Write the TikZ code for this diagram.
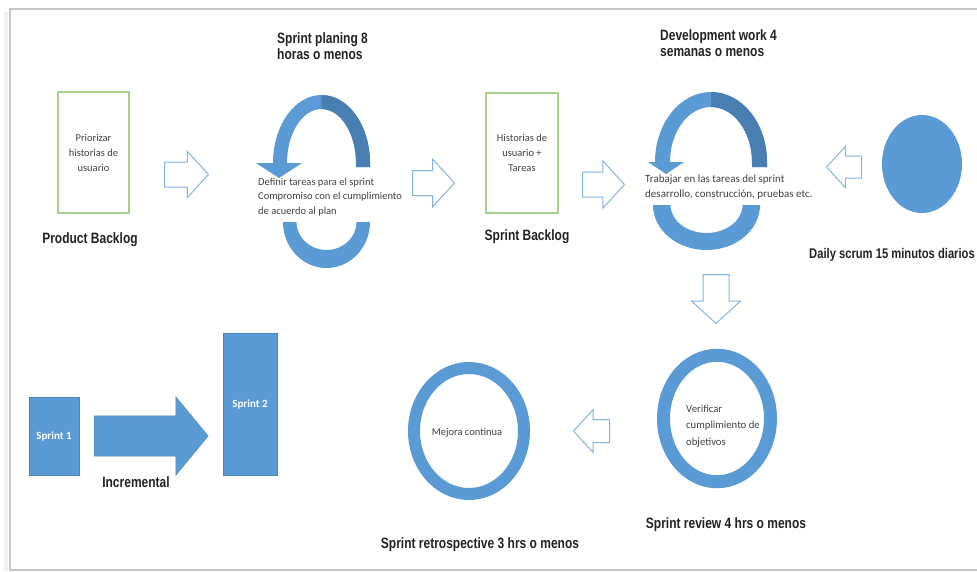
\documentclass[tikz,border=0pt]{standalone}
\usepackage{fontspec}
\setmainfont{Carlito}
\newfontfamily\labelfont[FakeStretch=0.8]{Liberation Sans}
\usepackage{tikz}
\usetikzlibrary{shapes.geometric,shapes.arrows}

\definecolor{scrumblue}{RGB}{91,155,213}
\definecolor{scrumdark}{RGB}{72,126,178}
\definecolor{outlineblue}{RGB}{130,180,226}
\definecolor{backloggreen}{RGB}{168,208,141}
\definecolor{textgray}{RGB}{64,64,64}
\definecolor{labelgray}{RGB}{34,34,34}

\tikzset{
  body/.style={font=\fontsize{10.5}{15}\selectfont, text=textgray, inner sep=0pt},
  caption/.style={font=\labelfont\bfseries\fontsize{15}{16}\selectfont, text=labelgray, inner sep=0pt},
  backlog/.style={draw=backloggreen, line width=1.2pt, fill=white, align=center, body},
  blockarrow/.style={single arrow, anchor=tail, draw=outlineblue, line width=1pt, fill=white, inner sep=0pt, text height=0pt, text depth=0pt, text width=0pt, single arrow tip angle=95},
  sprintbox/.style={rectangle, fill=scrumblue, draw=scrumblue!85!black, line width=0.4pt, text=white, font=\bfseries\fontsize{11}{13}\selectfont},
  ring/.style={ellipse, draw=scrumblue, line width=13pt, fill=white, inner sep=0pt}
}

\begin{document}
\begin{tikzpicture}[x=1pt,y=-1pt]
\useasboundingbox (0,0) rectangle (977,571);
% page frame
\draw[gray!12, line width=4pt] (6,12) -- (6,571);
\draw[gray!45, line width=1.5pt] (977,9) -- (10,9) -- (10,570) -- (977,570);

% product backlog
\node[backlog, minimum width=71pt, minimum height=121pt] (pb) at (93.5,152.5) {Priorizar\\historias de\\usuario};
\node[caption] (pblabel) at (90,240) {Product Backlog};
\node[blockarrow, minimum height=44pt, inner ysep=12pt, single arrow head extend=10.5pt] (a1) at (164,174.5) {};

% sprint planning cycle
\node[caption, anchor=north west, align=left] (plantitle) at (277,32) {Sprint planing 8\\horas o menos};
\fill[scrumblue] (256,163) -- (279,178) -- (302,163) -- (287,163) arc[start angle=180, end angle=360, x radius=34.5, y radius=54] -- (356,167) -- (370,167) -- (370,163) arc[start angle=0, end angle=-180, x radius=48.5, y radius=68] -- cycle;
\fill[scrumdark] (321.5,95) arc[start angle=270, end angle=360, x radius=48.5, y radius=68] -- (370,167) -- (356,167) -- (356,163) arc[start angle=0, end angle=-90, x radius=34.5, y radius=54] -- cycle;
\fill[scrumblue] (283,222) arc[start angle=180, end angle=0, x radius=43.5, y radius=46] -- (356.5,222) arc[start angle=0, end angle=180, x radius=30, y radius=28] -- cycle;
\node[body, anchor=west, align=left, font=\fontsize{10.5}{14.5}\selectfont] (plantext) at (258,197) {Definir tareas para el sprint\\Compromiso con el cumplimiento\\de acuerdo al plan};
\node[blockarrow, minimum height=42pt, inner ysep=12pt, single arrow head extend=11.5pt] (a2) at (412,183) {};

% sprint backlog
\node[backlog, minimum width=72pt, minimum height=120pt] (sb) at (522,153) {Historias de\\usuario +\\Tareas};
\node[caption] (sblabel) at (527,237) {Sprint Backlog};
\node[blockarrow, minimum height=42pt, inner ysep=12pt, single arrow head extend=11pt] (a3) at (582,184.5) {};

% development work cycle
\node[caption, anchor=north west, align=left] (devtitle) at (660,29) {Development work 4\\semanas o menos};
\fill[scrumblue] (648,162) -- (666,174) -- (684,162) -- (670,162) arc[start angle=180, end angle=360, x radius=41, y radius=55] -- (752,167) -- (767,167) -- (767,162) arc[start angle=0, end angle=-180, x radius=56, y radius=70] -- cycle;
\fill[scrumdark] (711,92) arc[start angle=270, end angle=360, x radius=56, y radius=70] -- (767,167) -- (752,167) -- (752,162) arc[start angle=0, end angle=-90, x radius=41, y radius=55] -- cycle;
\fill[scrumblue] (653,205) arc[start angle=180, end angle=0, x radius=53.5, y radius=45] -- (742.5,205) arc[start angle=0, end angle=180, x radius=36, y radius=28] -- cycle;
\node[body, anchor=west, align=left, font=\fontsize{11}{15}\selectfont] (devtext) at (645,187.5) {Trabajar en las tareas del sprint\\desarrollo, construcción, pruebas etc.};

% daily scrum
\node[ellipse, fill=scrumblue, minimum width=80pt, minimum height=98pt] (daily) at (922,164) {};
\node[caption, anchor=west, font=\labelfont\bfseries\fontsize{14}{16}\selectfont] (dailylabel) at (809,255) {Daily scrum 15 minutos diarios};
\node[blockarrow, rotate=180, minimum height=35pt, inner ysep=10.5pt, single arrow head extend=9.5pt] (a4) at (862,167) {};

% sprint review
\node[blockarrow, rotate=-90, minimum height=49pt, inner ysep=12.5pt, single arrow head extend=11.5pt] (a5) at (716,274) {};
\node[ring, minimum width=107pt, minimum height=126.5pt] (review) at (717,418.5) {};
\node[body, anchor=west, align=left, font=\fontsize{10.7}{16.5}\selectfont] (reviewtext) at (686,426) {Verificar\\cumplimiento de\\objetivos};
\node[caption] (reviewlabel) at (726,525) {Sprint review 4 hrs o menos};

% sprint retrospective
\node[blockarrow, rotate=180, minimum height=36pt, inner ysep=11pt, single arrow head extend=10pt] (a6) at (610,431) {};
\node[ring, line width=12pt, minimum width=110pt, minimum height=126pt] (retro) at (469,431) {};
\node[body] (retrotext) at (467,433) {Mejora continua};
\node[caption] (retrolabel) at (480,545) {Sprint retrospective 3 hrs o menos};

% incremental
\node[sprintbox, minimum width=50pt, minimum height=78pt] (sprint1) at (54,436) {Sprint 1};
\node[sprintbox, minimum width=54pt, minimum height=142pt] (sprint2) at (250,404) {Sprint 2};
\node[single arrow, anchor=tail, fill=scrumblue, draw=scrumblue!85!black, line width=0.4pt, inner sep=0pt, text height=0pt, text depth=0pt, text width=0pt, minimum height=114pt, inner ysep=20pt, single arrow head extend=19pt, single arrow tip angle=101] (grow) at (94,436) {};
\node[caption] (growlabel) at (136,482) {Incremental};
\end{tikzpicture}
\end{document}
